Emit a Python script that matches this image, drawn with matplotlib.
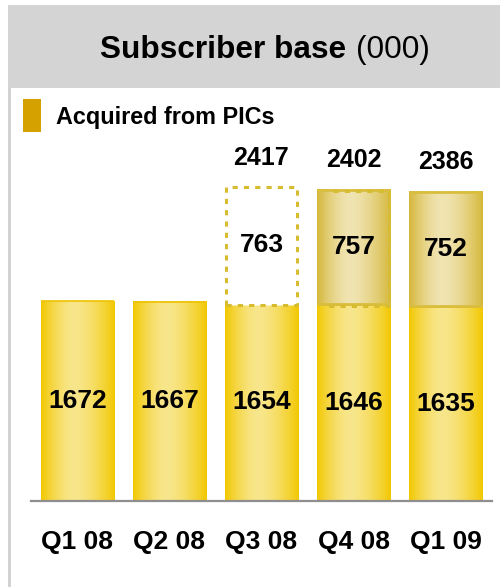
import numpy as np
import matplotlib
matplotlib.use("Agg")
import matplotlib.pyplot as plt
from matplotlib.patches import Rectangle
from matplotlib.colors import to_rgb

# ---- data ----
categories = ["Q1 08", "Q2 08", "Q3 08", "Q4 08", "Q1 09"]
organic = [1672, 1667, 1654, 1646, 1635]
acquired = [None, None, 763, 757, 752]
totals = [None, None, 2417, 2402, 2386]
title_bold = "Subscriber base"
title_unit = "(000)"
legend_label = "Acquired from PICs"

W, H = 500, 587
FONT = "Liberation Sans"
plt.rcParams['font.family'] = [FONT, 'DejaVu Sans']

fig = plt.figure(figsize=(W / 100, H / 100), dpi=100)
fig.patch.set_facecolor("white")


def fx(px):
    return px / W


def fy(py):
    return 1 - py / H


# header band
fig.add_artist(Rectangle((fx(8), fy(88)), fx(492), 83 / H, transform=fig.transFigure,
                         facecolor="#D4D4D4", edgecolor="none", zorder=0))
# left border line
fig.add_artist(Rectangle((fx(8), 0), fx(3), fy(88), transform=fig.transFigure,
                         facecolor="#D2D2D2", edgecolor="none", zorder=0))

# title
fig.text(fx(346), fy(50), title_bold, ha="right", va="center", fontsize=22.8,
         fontweight="bold", color="black")
fig.text(fx(356), fy(50), title_unit, ha="left", va="center", fontsize=22.8,
         color="black")

# legend
fig.add_artist(Rectangle((fx(23), fy(132)), fx(18), 33 / H, transform=fig.transFigure,
                         facecolor="#D4A100", edgecolor="none"))
fig.text(fx(56), fy(118), legend_label, ha="left", va="center", fontsize=16.8,
         fontweight="bold", color="black")

# axes
ax = fig.add_axes([fx(31), 1 - 501 / H, fx(461), (501 - 140) / H])
ax.set_facecolor("none")
YMIN, YMAX = 365, 365 + (501 - 140) / 0.153
ax.set_xlim(-0.505, 4.505)
ax.set_ylim(YMIN, YMAX)
for s in ["top", "right", "left"]:
    ax.spines[s].set_visible(False)
ax.spines["bottom"].set_color("#8E8E8E")
ax.spines["bottom"].set_linewidth(1.6)
ax.spines["bottom"].set_zorder(5)
ax.set_yticks([])
ax.set_xticks([])


def hgrad(c_edge, c_mid, peak=0.45, n=256):
    t = np.linspace(0, 1, n)
    d = np.where(t < peak, (peak - t) / peak, (t - peak) / (1 - peak))
    w = 1 - d ** 1.6
    e = np.array(to_rgb(c_edge))
    m = np.array(to_rgb(c_mid))
    g = e[None, :] * (1 - w[:, None]) + m[None, :] * w[:, None]
    return g[None, :, :]


BW = 0.8
low_grad = hgrad("#F2C800", "#F8E68C")
up_grad = hgrad("#D5B83A", "#F0E4B2")
dash_col = "#D8BC30"
dash_style = (0, (1.7, 2.0))

x = np.arange(len(categories))
for i, xi in enumerate(x):
    v = organic[i]
    ax.imshow(low_grad, extent=[xi - BW / 2, xi + BW / 2, 0, v], aspect="auto",
              interpolation="bilinear", zorder=2)
    ax.plot([xi - BW / 2, xi + BW / 2], [v, v], color="#EEC300", lw=1.2, zorder=3,
            solid_capstyle="butt")
    ax.text(xi, (YMIN + v) / 2, f"{v}", ha="center", va="center", fontsize=19,
            fontweight="bold", color="black", zorder=6)
    a = acquired[i]
    if a is None:
        continue
    top = v + a
    if i == 2:
        ax.add_patch(Rectangle((xi - BW / 2 + 0.01, v - 8), BW - 0.02, a + 8,
                               facecolor="white", edgecolor=dash_col, lw=2.2,
                               linestyle=dash_style, zorder=4))
    else:
        ax.imshow(up_grad, extent=[xi - BW / 2, xi + BW / 2, v, top], aspect="auto",
                  interpolation="bilinear", zorder=2)
        ax.plot([xi - BW / 2, xi + BW / 2], [top - 4, top - 4], color="#D9BE3E",
                lw=2.0, zorder=3, solid_capstyle="butt")
        ax.plot([xi - BW / 2, xi + BW / 2], [v + 5, v + 5], color="#D9BE3E",
                lw=2.0, zorder=3, solid_capstyle="butt")
        if i == 3:
            xr = xi + BW / 2 - 0.01
            xl = xi - BW / 2 + 0.18
            ax.plot([xl, xr, xr, xi - BW / 2 + 0.1], [top - 15, top - 15, v - 8, v - 8],
                    color=dash_col, lw=2.2, linestyle=dash_style, zorder=4)
    ax.text(xi, v + a / 2, f"{a}", ha="center", va="center", fontsize=19,
            fontweight="bold", color="black", zorder=6)
    ax.annotate(f"{totals[i]}", xy=(xi, top), xytext=(0, 21), textcoords="offset points",
                ha="center", va="center", fontsize=18, fontweight="bold",
                color="black", zorder=6)

ax.set_xlim(-0.505, 4.505)
ax.set_ylim(YMIN, YMAX)

for i, xi in enumerate(x):
    ax.text(xi, -41 / 361, categories[i], transform=ax.get_xaxis_transform(),
            ha="center", va="center", fontsize=19, fontweight="bold", color="black")

fig.savefig("out.png", dpi=100)
